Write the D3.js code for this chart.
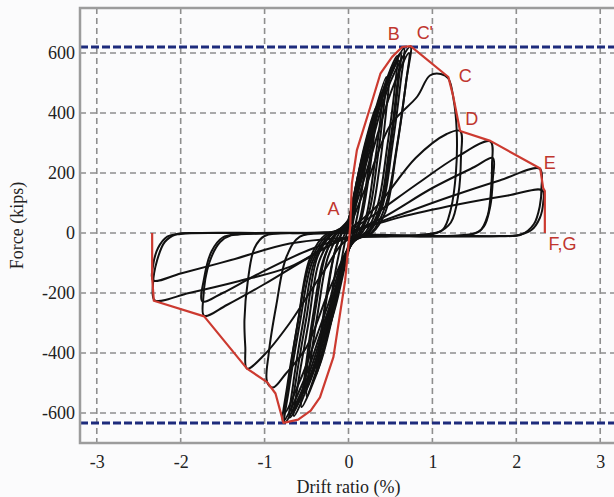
<!DOCTYPE html>
<html>
<head>
<meta charset="utf-8">
<script src="https://cdn.jsdelivr.net/npm/d3@7"></script>
<style>
body { margin: 0; background: #fbfbfc; }
.grid line { stroke: #8e8e8e; stroke-width: 1.6; stroke-dasharray: 6,4; }
.limit { stroke: #1d2b7c; stroke-width: 3; stroke-dasharray: 8,3; fill: none; }
.frame { fill: none; stroke: #9c9c9c; stroke-width: 2.5; }
.cycle { fill: none; stroke: #111; stroke-width: 2; stroke-linejoin: round; }
.envelope { fill: none; stroke: #cc3a30; stroke-width: 2.2; stroke-linejoin: round; }
.pointLabel { font-family: "Liberation Sans", Arial, sans-serif; font-size: 18px; fill: #c0362e; }
</style>
</head>
<body>
<div id="chart"></div>
<script>
var driftTicks = [-3, -2, -1, 0, 1, 2, 3];
var forceTicks = [-600, -400, -200, 0, 200, 400, 600];
var limitForces = [620, -633];

// red backbone curve, drift (%) / force (kips)
var envelope = [[-2.34,0],[-2.34,-150],[-2.32,-226],[-1.72,-278],[-1.21,-452],[-0.97,-497],[-0.87,-535],
    [-0.775,-633],[-0.6,-622],[-0.45,-592],[-0.34,-548],[-0.18,-414],[-0.04,-158],[0.02,20],[0.04,165],
    [0.1,276],[0.26,420],[0.38,531],[0.52,587],[0.64,620],[0.74,623],[1.19,520],[1.25,453],[1.33,340],
    [1.69,307],[2.285,215],[2.32,150],[2.34,140],[2.34,0]];

var cycle01 = [[0,0],[0.03,60],[0.08,130],[0.12,180],[0.1,120],[0.06,45],[0.03,0],[-0.01,-50],[-0.06,-120],
    [-0.12,-190],[-0.1,-125],[-0.05,-40],[-0.02,0],[0,25]];
var cycle02 = [[0,25],[0.05,100],[0.13,210],[0.22,300],[0.2,225],[0.14,110],[0.08,25],[0.03,-25],[-0.05,-120],
    [-0.15,-240],[-0.25,-330],[-0.22,-245],[-0.15,-120],[-0.08,-30],[-0.02,15],[0,30]];
var cycle03 = [[0,30],[0.07,130],[0.19,290],[0.33,420],[0.31,340],[0.24,185],[0.16,55],[0.09,-5],[0.01,-45],
    [-0.1,-160],[-0.23,-310],[-0.36,-450],[-0.33,-360],[-0.25,-200],[-0.16,-60],[-0.07,5],[0,40]];
var cycle04 = [[0,40],[0.09,150],[0.26,350],[0.45,520],[0.42,420],[0.34,235],[0.25,75],[0.15,5],[0.02,-45],
    [-0.14,-200],[-0.32,-400],[-0.5,-545],[-0.46,-440],[-0.36,-255],[-0.25,-85],[-0.12,-5],[0,45]];
var cycle05 = [[0,45],[0.12,170],[0.3,370],[0.48,510],[0.45,410],[0.37,220],[0.27,60],[0.16,0],[0.02,-40],
    [-0.16,-210],[-0.35,-410],[-0.52,-530],[-0.48,-420],[-0.38,-230],[-0.27,-70],[-0.14,0],[0,40]];
var cycle06 = [[0,40],[0.12,175],[0.35,425],[0.58,590],[0.55,480],[0.46,285],[0.35,95],[0.21,5],[0.04,-35],
    [-0.16,-200],[-0.4,-445],[-0.65,-610],[-0.6,-500],[-0.48,-305],[-0.35,-95],[-0.18,-10],[0,30]];
var cycle07 = [[0,30],[0.16,200],[0.4,450],[0.6,575],[0.57,470],[0.48,270],[0.37,85],[0.22,0],[0.04,-30],
    [-0.2,-240],[-0.45,-470],[-0.67,-595],[-0.62,-480],[-0.5,-280],[-0.37,-80],[-0.2,-5],[0,25]];
var cycle08 = [[0,25],[0.17,205],[0.44,480],[0.66,615],[0.62,500],[0.52,285],[0.4,85],[0.24,0],[0.05,-30],
    [-0.22,-250],[-0.5,-490],[-0.76,-632],[-0.71,-520],[-0.58,-300],[-0.43,-95],[-0.23,-10],[0,20]];
var cycle09 = [[0,20],[0.2,220],[0.5,505],[0.74,622],[0.69,510],[0.58,295],[0.44,90],[0.27,0],[0.06,-30],
    [-0.25,-265],[-0.53,-490],[-0.78,-628],[-0.73,-510],[-0.61,-310],[-0.46,-100],[-0.26,-10],[0,15]];
var cycle10 = [[0,15],[0.22,210],[0.52,480],[0.72,600],[0.68,490],[0.57,270],[0.44,70],[0.28,0],[0.06,-25],
    [-0.27,-260],[-0.56,-480],[-0.76,-600],[-0.71,-490],[-0.6,-290],[-0.46,-85],[-0.27,-5],[0,10]];
var cycle11 = [[0,10],[0.2,150],[0.5,360],[0.82,455],[0.97,525],[1.1,530],[1.19,515],[1.25,450],[1.29,340],
    [1.28,200],[1.22,80],[1.12,10],[0.9,-5],[0.5,-10],[0.1,-20],[-0.2,-170],[-0.5,-380],[-0.75,-470],
    [-0.9,-515],[-0.97,-497],[-0.95,-400],[-0.86,-240],[-0.74,-80],[-0.58,-12],[-0.2,0],[0,10]];
var cycle12 = [[0,10],[0.34,90],[0.8,250],[1.17,330],[1.33,340],[1.34,250],[1.31,130],[1.22,35],[1.05,0],
    [0.5,-10],[0,-20],[-0.3,-130],[-0.7,-300],[-1.0,-405],[-1.21,-452],[-1.23,-380],[-1.24,-290],
    [-1.2,-160],[-1.12,-50],[-1.0,-10],[-0.5,0],[0,5]];
var cycle13 = [[0,5],[0.3,60],[0.8,160],[1.3,255],[1.69,305],[1.71,225],[1.7,150],[1.66,60],[1.56,5],
    [1.3,-8],[0.5,-10],[0,-15],[-0.46,-80],[-1.0,-170],[-1.45,-240],[-1.72,-276],[-1.73,-215],
    [-1.66,-100],[-1.53,-30],[-1.4,-8],[-1.0,-2],[-0.5,0],[0,0]];
var cycle14 = [[0,0],[0.4,50],[1.0,150],[1.5,220],[1.72,250],[1.72,180],[1.69,90],[1.61,20],[1.46,-5],
    [1.0,-10],[0,-15],[-0.5,-60],[-1.1,-140],[-1.5,-200],[-1.74,-228],[-1.72,-150],[-1.63,-60],
    [-1.5,-15],[-1.3,-4],[-0.6,0],[0,0]];
var cycle15 = [[0,0],[0.6,60],[1.2,120],[1.8,175],[2.28,214],[2.3,150],[2.28,90],[2.21,30],[2.06,-5],
    [1.8,-10],[1.0,-12],[0,-15],[-0.7,-113],[-1.3,-160],[-1.9,-200],[-2.31,-224],[-2.33,-170],
    [-2.28,-90],[-2.19,-30],[-2.06,-5],[-1.8,0],[-1.0,0],[0,0]];
var cycle16 = [[0,0],[0.62,53],[1.3,95],[1.9,125],[2.31,142],[2.32,100],[2.28,50],[2.18,10],[2.0,-8],
    [1.5,-10],[0.5,-12],[0,-15],[-0.7,-35],[-1.4,-90],[-2.0,-135],[-2.33,-158],[-2.33,-110],
    [-2.27,-50],[-2.16,-12],[-2.0,-3],[-1.5,0],[0,0]];
// repeated cycles inside the elastic band
var cycle17 = [[0,20],[0.06,120],[0.17,260],[0.3,390],[0.28,310],[0.21,160],[0.13,40],[0.06,-10],[-0.02,-60],
    [-0.12,-190],[-0.24,-330],[-0.38,-470],[-0.35,-380],[-0.27,-220],[-0.17,-70],[-0.08,0],[0,30]];
var cycle18 = [[0,35],[0.1,160],[0.25,330],[0.4,470],[0.38,380],[0.3,210],[0.21,55],[0.12,0],[0.01,-50],
    [-0.15,-230],[-0.33,-430],[-0.56,-580],[-0.52,-470],[-0.42,-270],[-0.3,-90],[-0.15,-5],[0,35]];
var cycle19 = [[0,30],[0.15,200],[0.38,440],[0.62,600],[0.59,490],[0.5,280],[0.39,90],[0.24,5],[0.05,-30],
    [-0.18,-230],[-0.43,-460],[-0.7,-615],[-0.66,-505],[-0.54,-295],[-0.4,-90],[-0.21,-5],[0,25]];

var cycles = [cycle01, cycle02, cycle03, cycle04, cycle05, cycle06, cycle07, cycle08, cycle09, cycle10,
    cycle11, cycle12, cycle13, cycle14, cycle15, cycle16, cycle17, cycle18, cycle19];

var pointLabels = ["A", "B", "C'", "C", "D", "E", "F,G"];
var pointDrift = [-0.18, 0.54, 0.91, 1.39, 1.47, 2.40, 2.55];
var pointForce = [82, 665, 669, 526, 382, 236, -34];

HysteresisChart = function(_parentElement){
    this.parentElement = _parentElement;
    this.initVis();
};

HysteresisChart.prototype.initVis = function(){
    var vis = this;

    vis.margin = { left: 80, right: 0, top: 8, bottom: 54 };
    vis.width = 537;
    vis.height = 435;

    vis.svg = d3.select(vis.parentElement)
        .append("svg")
        .attr("width", 614)
        .attr("height", 497);
    vis.g = vis.svg.append("g")
        .attr("transform", "translate(" + vis.margin.left + "," + vis.margin.top + ")");

    vis.x = d3.scaleLinear().domain([-3.2, 3.2]).range([0, vis.width]);
    vis.y = d3.scaleLinear().domain([-700, 750]).range([vis.height, 0]);

    vis.line = d3.line()
        .x(function(d) { return vis.x(d[0]); })
        .y(function(d) { return vis.y(d[1]); });

    vis.drawGrid();
    vis.drawAxes();
    vis.updateVis();
};

HysteresisChart.prototype.drawGrid = function(){
    var vis = this;

    var grid = vis.g.append("g").attr("class", "grid");
    grid.selectAll(".vgrid")
        .data(driftTicks)
        .enter().append("line")
        .attr("x1", function(d) { return vis.x(d); })
        .attr("x2", function(d) { return vis.x(d); })
        .attr("y1", 0)
        .attr("y2", vis.height);
    grid.selectAll(".hgrid")
        .data(forceTicks)
        .enter().append("line")
        .attr("x1", 0)
        .attr("x2", vis.width)
        .attr("y1", function(d) { return vis.y(d); })
        .attr("y2", function(d) { return vis.y(d); });

    vis.g.selectAll(".limit")
        .data(limitForces)
        .enter().append("line")
        .attr("class", "limit")
        .attr("x1", 0)
        .attr("x2", vis.width)
        .attr("y1", function(d) { return vis.y(d); })
        .attr("y2", function(d) { return vis.y(d); });
};

HysteresisChart.prototype.drawAxes = function(){
    var vis = this;
    var serif = "'Liberation Serif', 'Times New Roman', serif";

    var xAxis = d3.axisBottom(vis.x)
        .tickValues(driftTicks)
        .tickSize(0)
        .tickPadding(12)
        .tickFormat(function(d) { return String(d); });
    var yAxis = d3.axisLeft(vis.y)
        .tickValues(forceTicks)
        .tickSize(0)
        .tickPadding(5)
        .tickFormat(function(d) { return String(d); });

    var gx = vis.g.append("g")
        .attr("transform", "translate(0," + vis.height + ")")
        .call(xAxis);
    var gy = vis.g.append("g")
        .call(yAxis);
    gx.select(".domain").remove();
    gy.select(".domain").remove();
    vis.g.selectAll(".tick text")
        .attr("font-family", serif)
        .attr("font-size", "18px")
        .attr("fill", "#222");

    vis.g.append("rect")
        .attr("class", "frame")
        .attr("width", vis.width)
        .attr("height", vis.height);

    vis.g.append("text")
        .attr("x", vis.x(0))
        .attr("y", vis.height + 50)
        .attr("text-anchor", "middle")
        .attr("font-family", serif)
        .attr("font-size", "18px")
        .attr("fill", "#222")
        .text("Drift ratio (%)");

    vis.g.append("text")
        .attr("transform", "translate(" + (-57) + "," + (vis.height / 2) + ") rotate(-90)")
        .attr("text-anchor", "middle")
        .attr("font-family", serif)
        .attr("font-size", "18px")
        .attr("fill", "#222")
        .text("Force (kips)");
};

HysteresisChart.prototype.updateVis = function(){
    var vis = this;

    var smooth = d3.line()
        .x(function(d) { return vis.x(d[0]); })
        .y(function(d) { return vis.y(d[1]); })
        .curve(d3.curveCatmullRom.alpha(0.5));

    vis.g.selectAll(".cycle")
        .data(cycles)
        .enter().append("path")
        .attr("class", "cycle")
        .attr("d", smooth);

    vis.g.append("path")
        .datum(envelope)
        .attr("class", "envelope")
        .attr("d", vis.line);

    vis.g.selectAll(".pointLabel")
        .data(pointLabels)
        .enter().append("text")
        .attr("class", "pointLabel")
        .attr("x", function(d, i) { return vis.x(pointDrift[i]); })
        .attr("y", function(d, i) { return vis.y(pointForce[i]); })
        .attr("dy", "0.35em")
        .attr("text-anchor", "middle")
        .text(function(d) { return d; });
};

new HysteresisChart("#chart");
</script>
</body>
</html>
